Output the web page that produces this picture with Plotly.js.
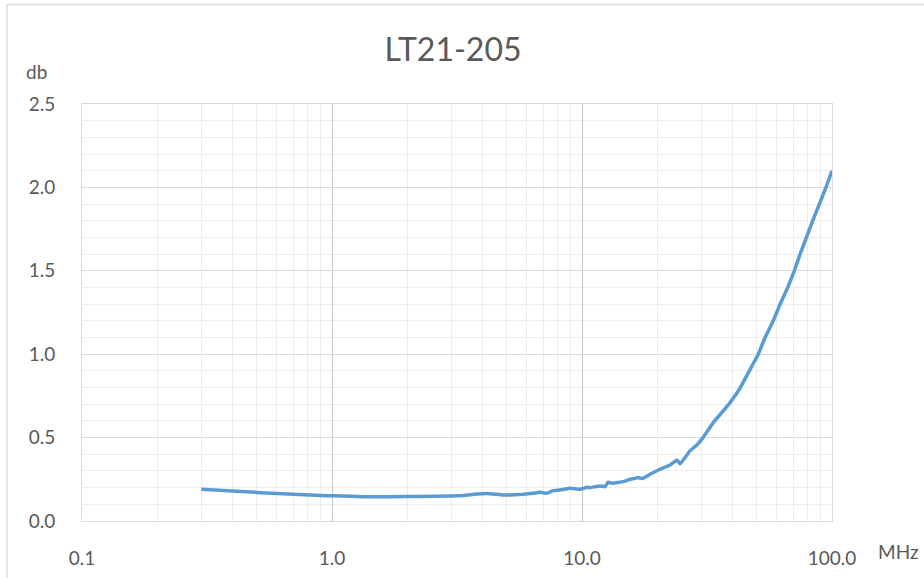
<!DOCTYPE html>
<html>
<head>
<meta charset="utf-8">
<script src="https://cdn.plot.ly/plotly-3.0.1.min.js"></script>
<style>
  html, body { margin: 0; padding: 0; background: #ffffff; }
  #chart { width: 924px; height: 578px; }
</style>
</head>
<body>
<div id="chart"></div>
<script>
// Frequency (MHz) and insertion loss (dB)
const freqMHz = [0.30, 0.40, 0.52, 0.70, 0.95, 1.10, 1.33, 1.7, 2.2, 2.97, 3.34, 3.8, 4.29, 4.83, 5.81, 6.37, 6.79, 7.24, 7.66, 8.17, 8.95, 9.82, 10.47, 10.77, 11.8, 12.36, 12.7, 13.3, 14.6, 15.6, 16.7, 17.5, 18.7, 20.5, 22.5, 24.0, 24.7, 26.3, 27.0, 28.8, 30.5, 33.5, 36.0, 39.1, 42.6, 46.3, 50.7, 54.0, 58.2, 62.0, 66.5, 70.7, 74.5, 79.0, 83.7, 89.0, 94.6, 100.0];
const lossDb = [0.190, 0.180, 0.170, 0.160, 0.152, 0.150, 0.146, 0.146, 0.147, 0.150, 0.153, 0.162, 0.164, 0.156, 0.160, 0.166, 0.172, 0.166, 0.182, 0.186, 0.196, 0.190, 0.202, 0.200, 0.210, 0.205, 0.232, 0.226, 0.236, 0.250, 0.260, 0.255, 0.280, 0.310, 0.336, 0.366, 0.342, 0.396, 0.420, 0.456, 0.500, 0.590, 0.645, 0.710, 0.790, 0.890, 1.000, 1.100, 1.200, 1.300, 1.400, 1.500, 1.600, 1.700, 1.800, 1.900, 2.000, 2.100];

const chartTitle = 'LT21-205';
const yUnit = 'db';
const xUnit = 'MHz';

const textColor = '#595959';
const fontFam = 'Lato, "Open Sans", "Liberation Sans", sans-serif';

const trace = {
  x: freqMHz,
  y: lossDb,
  type: 'scatter',
  mode: 'lines',
  line: { color: '#5b9bd5', width: 3.5, shape: 'spline', smoothing: 0.2 },
  hoverinfo: 'x+y'
};

const layout = {
  width: 924,
  height: 578,
  paper_bgcolor: '#ffffff',
  plot_bgcolor: '#ffffff',
  showlegend: false,
  margin: { l: 82, r: 92, t: 104, b: 57 },
  font: { family: fontFam, color: textColor, size: 19 },
  title: {
    text: chartTitle,
    font: { family: fontFam, size: 32, color: textColor },
    x: 0.4947, xanchor: 'center', xref: 'paper',
    y: 0.914, yanchor: 'middle', yref: 'container'
  },
  xaxis: {
    type: 'log',
    range: [-1, 2],
    dtick: 1,
    tickformat: '.1f',
    tickfont: { family: fontFam, size: 19, color: textColor },
    ticks: 'outside', ticklen: 20, tickcolor: 'rgba(0,0,0,0)',
    showgrid: true, gridcolor: '#c6c6c6', gridwidth: 1,
    minor: { dtick: 'D1', showgrid: true, gridcolor: '#ededed', gridwidth: 1 },
    showline: true, linecolor: '#d9d9d9', linewidth: 1, mirror: true,
    zeroline: false, fixedrange: true
  },
  yaxis: {
    range: [0, 2.5],
    dtick: 0.5,
    tick0: 0,
    tickformat: '.1f',
    tickfont: { family: fontFam, size: 19, color: textColor },
    ticks: 'outside', ticklen: 22, tickcolor: 'rgba(0,0,0,0)',
    showgrid: true, gridcolor: '#d9d9d9', gridwidth: 1,
    minor: { dtick: 0.1, showgrid: true, gridcolor: '#ededed', gridwidth: 1 },
    showline: true, linecolor: '#d9d9d9', linewidth: 1, mirror: true,
    zeroline: false, fixedrange: true
  },
  annotations: [
    { text: yUnit, xref: 'paper', yref: 'paper', x: -0.061, y: 1.077, xanchor: 'center', yanchor: 'middle', showarrow: false, font: { family: fontFam, size: 19, color: textColor } },
    { text: xUnit, xref: 'paper', yref: 'paper', x: 1.089, y: -0.072, xanchor: 'center', yanchor: 'middle', showarrow: false, font: { family: fontFam, size: 19, color: textColor } }
  ],
  shapes: [
    { type: 'rect', xref: 'paper', yref: 'paper', x0: -0.1, x1: 2, y0: -1, y1: 1.2386, line: { color: '#d9d9d9', width: 1.3 }, fillcolor: 'rgba(0,0,0,0)', layer: 'below' }
  ]
};

Plotly.newPlot('chart', [trace], layout, { displayModeBar: false, staticPlot: true });
</script>
</body>
</html>
